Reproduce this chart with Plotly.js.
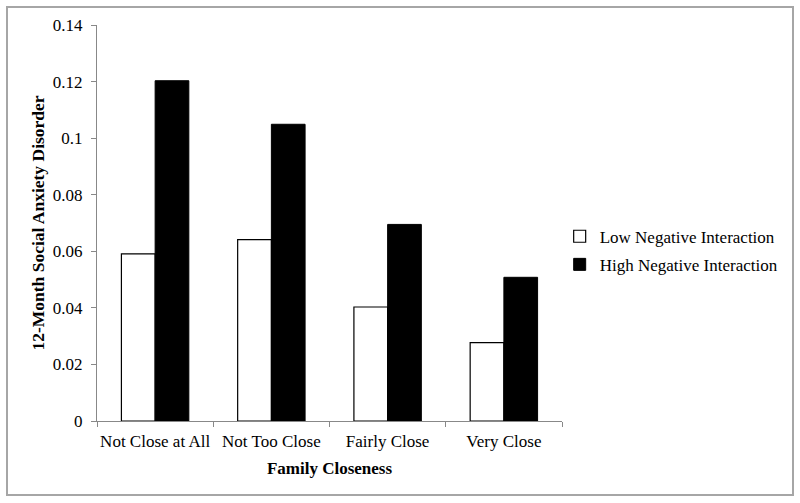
<!DOCTYPE html>
<html>
<head>
<meta charset="utf-8">
<script src="https://cdn.plot.ly/plotly-3.0.1.min.js"></script>
<style>
  body { margin: 0; background: #fff; }
  #wrap { position: relative; width: 800px; height: 503px; }
  #frame { position: absolute; left: 6px; top: 6px; width: 784px; height: 486px;
           border: 2px solid #a6a6a6; pointer-events: none; }
  #chart { position: absolute; left: 0; top: 0; width: 800px; height: 503px; }
</style>
</head>
<body>
<div id="wrap">
  <div id="chart"></div>
  <div id="frame"></div>
</div>
<script>
// family closeness categories
const categories = ['Not Close at All', 'Not Too Close', 'Fairly Close', 'Very Close'];
// 12-month social anxiety disorder
const lowNegative = [0.0591, 0.0641, 0.0403, 0.0277];
const highNegative = [0.1203, 0.1049, 0.0695, 0.0508];
const yTicks = [0, 0.02, 0.04, 0.06, 0.08, 0.1, 0.12, 0.14];
const yTickText = ['0', '0.02', '0.04', '0.06', '0.08', '0.1', '0.12', '0.14'];

const serif = 'Liberation Serif';

const lowTrace = {
  type: 'bar', x: categories, y: lowNegative, name: 'Low Negative Interaction',
  legendgroup: 'low',
  marker: {color: '#ffffff', line: {color: '#000000', width: 1.2}}
};
const highTrace = {
  type: 'bar', x: categories, y: highNegative, name: 'High Negative Interaction',
  legendgroup: 'high',
  marker: {color: '#000000', line: {color: '#000000', width: 1}}
};

const layout = {
  width: 800, height: 503,
  margin: {l: 97, r: 238, t: 25, b: 82},
  paper_bgcolor: 'rgba(0,0,0,0)', plot_bgcolor: '#ffffff',
  font: {family: serif, size: 17, color: '#000'},
  barmode: 'group', bargap: 0.42, bargroupgap: 0,
  showlegend: true,
  legend: {x: 0.995, xanchor: 'left', y: 0.43, yanchor: 'middle',
           font: {family: serif, size: 17, color: '#000'},
           tracegroupgap: 3, traceorder: 'grouped', bgcolor: 'rgba(0,0,0,0)'},
  xaxis: {
    type: 'category', tickson: 'boundaries', ticks: 'outside', ticklen: 5,
    tickcolor: '#888', showline: true, linecolor: '#888', linewidth: 1,
    showgrid: false, zeroline: false, tickangle: 0, ticklabelstandoff: 5,
    tickfont: {family: serif, size: 17, color: '#000'},
    title: {text: '<b>Family Closeness</b>', font: {family: serif, size: 17}, standoff: 11}
  },
  yaxis: {
    range: [0, 0.14], tickvals: yTicks, ticktext: yTickText,
    ticks: 'outside', ticklen: 5, tickcolor: '#888',
    showline: true, linecolor: '#888', linewidth: 1,
    showgrid: false, zeroline: false, ticklabelstandoff: 5,
    tickfont: {family: serif, size: 17, color: '#000'},
    title: {text: '<b>12-Month Social Anxiety Disorder</b>', font: {family: serif, size: 17.5}, standoff: 3}
  }
};

Plotly.newPlot('chart', [lowTrace, highTrace], layout, {displayModeBar: false, staticPlot: true});
</script>
</body>
</html>
